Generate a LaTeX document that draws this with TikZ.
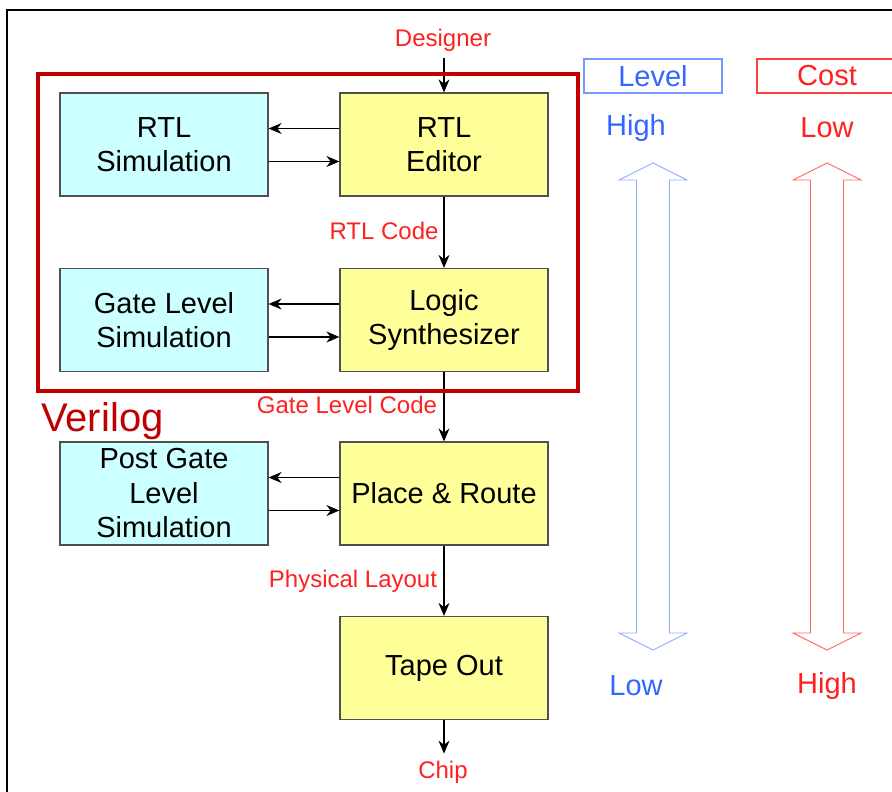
\documentclass[tikz,border=0pt]{standalone}
\usepackage{fontspec}
\setmainfont{Liberation Sans}
\usetikzlibrary{arrows.meta,calc,positioning}

\definecolor{simcyan}{HTML}{CCFFFF}
\definecolor{tooly}{HTML}{FFFF99}
\definecolor{boxline}{HTML}{505050}
\definecolor{flowred}{HTML}{FF2020}
\definecolor{darkred}{HTML}{C00000}
\definecolor{lvlblue}{HTML}{3366FF}
\definecolor{lvlframe}{HTML}{7799FF}
\definecolor{costframe}{HTML}{FF4040}

\begin{document}
\begin{tikzpicture}[
    x=1pt, y=-1pt,
    >={Stealth[length=13pt,width=11pt]},
    every node/.style={inner sep=0pt},
    stage/.style={draw=boxline, line width=1.2pt, fill=tooly,
      minimum width=208pt, minimum height=103pt, align=center,
      font=\fontsize{29}{34.5}\selectfont},
    simbox/.style={stage, fill=simcyan},
    flow/.style={->, line width=1.3pt, black},
    tag/.style={text=flowred, font=\fontsize{24}{28}\selectfont},
    scaletext/.style={font=\fontsize{29}{32}\selectfont},
    bigarrow/.style={line width=0.9pt, line join=miter},
  ]
  \useasboundingbox (0,0) rectangle (892,792);

  % ---- outer frame (only the left and top edges are visible) ---------
  \draw[line width=2pt] (7,792) -- (7,10) -- (892,10);

  % ---- tool chain ----------------------------------------------------
  \node[stage]  (edit)   at (444,144.5) {RTL\\Editor};
  \node[simbox] (rtlsim) at (164,144.5) {RTL\\Simulation};
  \node[stage]  (synth)  at (444,320)   {Logic\\Synthesizer};
  \node[simbox] (gatesim) at (164,320)  {Gate Level\\Simulation};
  \node[stage]  (pnr)    at (444,493.5) {Place \& Route};
  \node[simbox] (postsim) at (164,493.5) {Post Gate\\Level\\Simulation};
  \node[stage]  (tape)   at (444,668)   {Tape Out};

  % inputs, outputs and what flows in between
  \node[tag] (designer) at (443,40)  {Designer};
  \node[tag] (chip)     at (443,772) {Chip};
  \node[tag] (rtlcode)  at (384,231) {RTL Code};
  \node[tag] (gatecode) at (347,405) {Gate Level Code};
  \node[tag] (physlay)  at (353,581) {Physical Layout};

  \draw[flow] ([yshift=-7pt]edit.north |- designer.south) -- (edit.north);
  \draw[flow] (edit.south) -- (synth.north);
  \draw[flow] (synth.south) -- (pnr.north);
  \draw[flow] (pnr.south) -- (tape.north);
  \draw[flow] (tape.south) -- ([yshift=7pt]tape.south |- chip.north);

  % ---- simulation loops ----------------------------------------------
  \foreach \tool/\simb in {edit/rtlsim, synth/gatesim, pnr/postsim} {
    \draw[flow] ([yshift=16pt]\tool.west) -- ([yshift=16pt]\simb.east);
    \draw[flow] ([yshift=-17pt]\simb.east) -- ([yshift=-17pt]\tool.west);
  }

  % ---- Verilog scope -------------------------------------------------
  \draw[darkred, line width=3.5pt] (38,74) rectangle (578,391);
  \node[anchor=base west, text=darkred, font=\fontsize{40}{44}\selectfont]
    (verilog) at (41,431) {Verilog};

  % ---- level / cost scales -------------------------------------------
  \node[draw=lvlframe, line width=1.2pt, text=lvlblue, scaletext,
    minimum width=138pt, minimum height=34pt] (level) at (653,76) {Level};
  \node[draw=costframe, line width=1.2pt, text=flowred, scaletext,
    minimum width=140pt, minimum height=34pt] (cost) at (827,76) {Cost};

  \node[scaletext, text=lvlblue] (lvlhigh) at (636,128) {High};
  \node[scaletext, text=lvlblue] (lvllow)  at (636,686) {Low};
  \node[scaletext, text=flowred] (costlow)  at (827,128) {Low};
  \node[scaletext, text=flowred] (costhigh) at (827,686) {High};

  \def\shaft{16.5}  % half width of the shaft
  \def\head{34}     % half width of the heads
  \foreach \cx/\col in {653/lvlframe, 827/costframe} {
    \draw[bigarrow, \col!80]
      (\cx,163) -- (\cx+\head,180) -- (\cx+\shaft,180) -- (\cx+\shaft,633)
      -- (\cx+\head,633) -- (\cx,650) -- (\cx-\head,633) -- (\cx-\shaft,633)
      -- (\cx-\shaft,180) -- (\cx-\head,180) -- cycle;
  }

\end{tikzpicture}
\end{document}
